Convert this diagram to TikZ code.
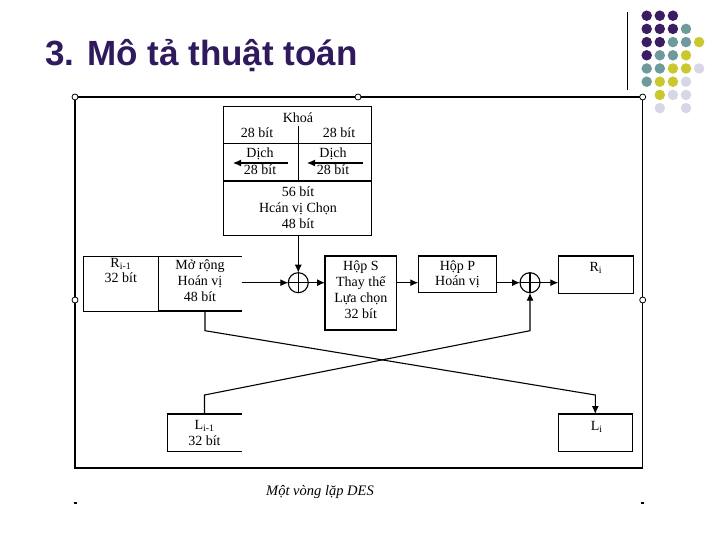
\documentclass[tikz,border=0pt]{standalone}
\usepackage{fontspec}
\setmainfont{Liberation Serif}
\newfontfamily\titlefont{Liberation Sans}
\usetikzlibrary{arrows.meta,calc}
\definecolor{titlecol}{HTML}{2E1A5C}
\definecolor{dP}{HTML}{3A1D63}
\definecolor{dT}{HTML}{6F9A9C}
\definecolor{dY}{HTML}{C9C82E}
\definecolor{dL}{HTML}{D6D6E6}
\newcommand{\dfont}{\fontsize{14}{15.8}\selectfont}
\tikzset{
  line/.style={line width=1.1pt},
  box/.style={draw, line width=1.1pt, inner sep=0pt, outer sep=0pt, align=center, font=\dfont},
  open/.style={inner sep=0pt, outer sep=0pt, align=center, font=\dfont},
  txt/.style={inner sep=0pt, align=center, font=\dfont},
  arr/.style={line width=1.1pt, -{Latex[length=8pt,width=7pt]}},
  xor/.style={circle, draw, line width=1.1pt, minimum size=20pt, inner sep=0pt, outer sep=0pt,
    path picture={\draw[line width=1.1pt] (path picture bounding box.north) -- (path picture bounding box.south)
      (path picture bounding box.west) -- (path picture bounding box.east);}},
  handle/.style={circle, draw, fill=white, line width=0.8pt, minimum size=6pt, inner sep=0pt},
  dot/.style={circle, fill=#1, minimum size=10.5pt, inner sep=0pt}
}
\begin{document}
\begin{tikzpicture}[x=1pt,y=-1pt]
\useasboundingbox (0,0) rectangle (720,540);
% title
\node[anchor=base west, inner sep=0pt, font=\titlefont\bfseries\fontsize{35}{40}\selectfont, text=titlecol] (title) at (45,66) {3. Mô tả thuật toán};
% decorative line and dots
\draw[line width=1pt] (627.3,12) -- (627.3,90);
\foreach \row/\cols in {0/{0/dP,1/dP,2/dP},
                        1/{0/dP,1/dP,2/dP,3/dT},
                        2/{0/dP,1/dP,2/dT,3/dT,4/dY},
                        3/{0/dP,1/dT,2/dT,3/dY},
                        4/{0/dT,1/dT,2/dY,3/dY,4/dL},
                        5/{0/dT,1/dY,2/dY,3/dL},
                        6/{1/dY,2/dL,3/dL},
                        7/{1/dL,3/dL}}{
  \foreach \c/\col in \cols {
    \node[dot=\col] (d\row\c) at ({646.7+13.1*\c},{15.7+13.2*\row}) {};
  }
}
% frame
\draw[line width=1.3pt] (75,97) rectangle (642.7,468);
\node[handle] (h1) at (75,97) {};
\node[handle] (h2) at (358,97) {};
\node[handle] (h3) at (642.7,97) {};
\node[handle] (h4) at (75,300) {};
\node[handle] (h5) at (642.7,300) {};
\draw[line width=1.3pt] (73.5,503) -- (76.5,503);
\draw[line width=1.3pt] (641.2,503) -- (644.2,503);
% key block
\node[box, minimum width=148.4pt, minimum height=129pt] (key) at (297.5,171.2) {};
\draw[line] (223.3,143.3) -- (371.7,143.3);
\draw[line] (223.3,181) -- (371.7,181);
\draw[line] (298.3,125.7) -- (298.3,181);
\node[txt] (khoa) at (298,117.5) {Khoá};
\node[txt] (k1) at (257,133) {28 bít};
\node[txt] (k2) at (339,133) {28 bít};
\node[txt] (dl) at (260,153.5) {Dịch};
\node[txt] (dr) at (333,153.5) {Dịch};
\node[txt] (dl2) at (260,169.5) {28 bít};
\node[txt] (dr2) at (333,169.5) {28 bít};
\coordinate (dla) at (288,163); \coordinate (dlb) at (233,163);
\coordinate (dra) at (363,163); \coordinate (drb) at (307,163);
\draw[arr] (dla) -- (dlb);
\draw[arr] (dra) -- (drb);
\node[txt] (pc) at (298,208) {56 bít\\Hcán vị Chọn\\48 bít};
% row
\node[box, minimum width=75pt, minimum height=54.3pt] (ri1) at (120.8,283.9) {};
\node[txt] (ri1t) at (120.8,270.5) {R\textsubscript{i-1}\\32 bít};
\node[open, minimum width=83.4pt, minimum height=54.3pt] (mr) at (200,283.85) {};
\draw[line] (mr.north east) -- (mr.north west) (mr.south west) -- (mr.south east);
\node[txt] (mrt) at (200,280.5) {Mở rộng\\Hoán vị\\48 bít};
\node[xor] (x1) at (298.3,282.7) {};
\node[box, minimum width=71.7pt, minimum height=74pt] (sbox) at (360.85,293) {};
\node[txt] (sboxt) at (360.85,289.5) {Hộp S\\Thay thế\\Lựa chọn\\32 bít};
\node[box, minimum width=78.4pt, minimum height=36.3pt] (pbox) at (457.5,274.15) {};
\node[txt] (pboxt) at (457.5,274.3) {Hộp P\\Hoán vị};
\node[xor] (x2) at (530,282.7) {};
\node[box, minimum width=75pt, minimum height=37.3pt] (ri) at (595.8,274.65) {};
\node[txt] (rit) at (595.8,268) {R\textsubscript{i}};
% arrows in row
\draw[arr] (key.south -| x1) -- (x1.north);
\draw[arr] (mr.east |- x1) -- (x1.west);
\draw[arr] (x1.east) -- (x1.east -| sbox.west);
\draw[arr] (sbox.east |- x1) -- (pbox.west |- x1);
\draw[arr] (pbox.east |- x2) -- (x2.west);
\draw[arr] (x2.east) -- (x2.east -| ri.west);
% bottom boxes
\node[open, minimum width=74.4pt, minimum height=37.7pt] (li1) at (204.5,432.85) {};
\draw[line] (li1.north east) -- (li1.north west) -- (li1.south west) -- (li1.south east);
\node[txt] (li1t) at (204.5,433) {L\textsubscript{i-1}\\32 bít};
\node[box, minimum width=74pt, minimum height=37.7pt] (li) at (595.3,432.85) {};
\node[txt] (lit) at (596.7,427) {L\textsubscript{i}};
% crossing
\coordinate (c1) at (205,330.7);
\coordinate (c2) at (595.3,395);
\coordinate (c3) at (204.5,395);
\coordinate (c4) at (530,330.7);
\draw[arr] (c1 |- mr.south) -- (c1) -- (c2) -- (li.north);
\draw[arr] (li1.north) -- (c3) -- (c4) -- (x2.south);
% caption
\node[inner sep=0pt, font=\itshape\fontsize{14.5}{16}\selectfont] (cap) at (320,492) {Một vòng lặp DES};
\end{tikzpicture}
\end{document}
